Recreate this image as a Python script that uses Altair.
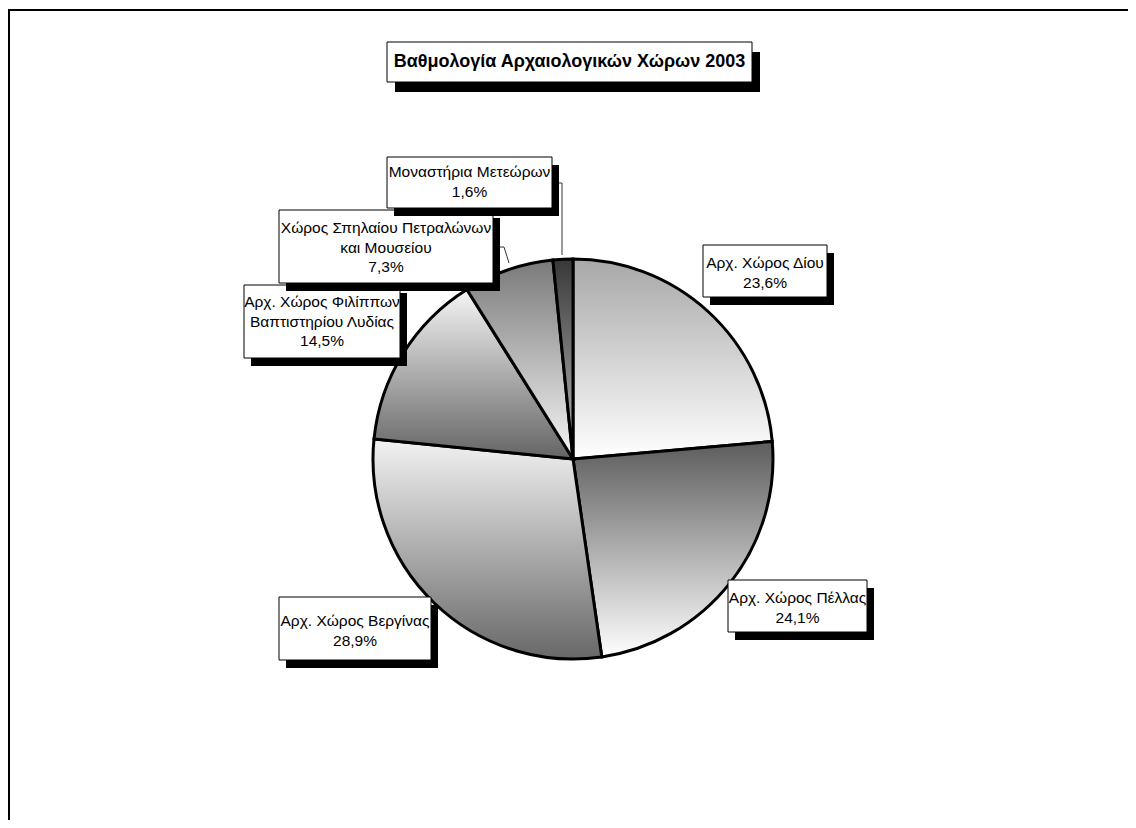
import math
import altair as alt
import pandas as pd

# ---------------- data ----------------
chart_title = "Βαθμολογία Αρχαιολογικών Χώρων 2003"
sites = [
    "Αρχ. Χώρος Δίου",
    "Αρχ. Χώρος Πέλλας",
    "Αρχ. Χώρος Βεργίνας",
    "Αρχ. Χώρος Φιλίππων\nΒαπτιστηρίου Λυδίας",
    "Χώρος Σπηλαίου Πετραλώνων\nκαι Μουσείου",
    "Μοναστήρια Μετεώρων",
]
shares = [23.6, 24.1, 28.9, 14.5, 7.3, 1.6]

# ---------------- styles / layout (page pixels) ----------------
OFF = 8                     # page margin
W, H = 1120, 812
CX, CY, R = 573 - OFF, 459 - OFF, 200
FONT = "Liberation Sans"
LABEL_SIZE = 15.5
LINE_H = 19.5
TITLE_SIZE = 18

slice_grads = [
    ("#a8a8a8", "#ffffff"),
    ("#5c5c5c", "#ffffff"),
    ("#f2f2f2", "#686868"),
    ("#f5f5f5", "#646464"),
    ("#7a7a7a", "#f6f6f6"),
    ("#383838", "#bcbcbc"),
]
# label boxes: (x0, y0, x1, y1) in page pixels
label_boxes = [
    (703, 245, 827, 297),
    (728, 580, 867, 632),
    (279, 597, 431, 660),
    (244, 285, 400, 358),
    (279, 210, 493, 283),
    (387, 157, 552, 208),
]
first_line_y = [263, 598, 621, 302, 228, 172]
SHADOW = (7, 8)
title_box = (387, 42, 752, 82)
TITLE_SHADOW = (8, 10)
# leader lines: (x0, y0, x1, y1)
leaders = [
    (552, 183, 562, 183),
    (562, 183, 562, 255),
    (500, 247, 504, 247),
    (504, 247, 509, 263),
]

df = pd.DataFrame({"order": list(range(len(sites))), "name": sites, "value": shares})
one = pd.DataFrame({"k": [0]})

base = (
    alt.Chart(df)
    .transform_window(cum="sum(value)", sort=[alt.SortField("order")], frame=[None, 0])
    .transform_calculate(
        start="datum.cum - datum.value",
        label="datum.name + '\\n' + replace(format(datum.value, '.1f'), '.', ',') + '%'",
    )
)
theta_scale = alt.Scale(domain=[0, sum(shares)], range=[0, 2 * math.pi])

layers = []

# outer chart-area border (top + left visible)
layers.append(
    alt.Chart(one).mark_rule(color="black", strokeWidth=2)
    .encode(x=alt.value(0), x2=alt.value(W), y=alt.value(10 - OFF))
)
layers.append(
    alt.Chart(one).mark_rule(color="black", strokeWidth=2)
    .encode(x=alt.value(9 - OFF), y=alt.value(10 - OFF), y2=alt.value(H))
)

# pie slices
for i, (c0, c1) in enumerate(slice_grads):
    grad = alt.Gradient(
        gradient="linear",
        stops=[alt.GradientStop(offset=0, color=c0), alt.GradientStop(offset=1, color=c1)],
        x1=0, x2=0, y1=0, y2=1,
    )
    layers.append(
        base.transform_filter(alt.datum.order == i)
        .mark_arc(fill=grad, stroke="black", strokeWidth=3, outerRadius=R)
        .encode(
            theta=alt.Theta("start:Q", scale=theta_scale),
            theta2="cum:Q",
            x=alt.value(CX),
            y=alt.value(CY),
        )
    )

# leader lines
for (x0, y0, x1, y1) in leaders:
    layers.append(
        alt.Chart(one).mark_rule(color="#333333", strokeWidth=1)
        .encode(x=alt.value(x0 - OFF), y=alt.value(y0 - OFF),
                x2=alt.value(x1 - OFF), y2=alt.value(y1 - OFF))
    )


def boxed(chart_src, box, shadow):
    x0, y0, x1, y1 = [v - OFF for v in box]
    sx, sy = shadow
    return [
        chart_src.mark_rect(fill="black")
        .encode(x=alt.value(x0 + sx), x2=alt.value(x1 + sx),
                y=alt.value(y0 + sy), y2=alt.value(y1 + sy)),
        chart_src.mark_rect(fill="white", stroke="black", strokeWidth=1)
        .encode(x=alt.value(x0), x2=alt.value(x1), y=alt.value(y0), y2=alt.value(y1)),
    ]


# data labels, drawn in series order
for i, box in enumerate(label_boxes):
    src = base.transform_filter(alt.datum.order == i)
    layers.extend(boxed(src, box, SHADOW))
    x0, y0, x1, y1 = [v - OFF for v in box]
    layers.append(
        src.mark_text(font=FONT, fontSize=LABEL_SIZE, lineHeight=LINE_H, lineBreak="\n",
                      align="center", baseline="middle", color="black")
        .encode(x=alt.value((x0 + x1) / 2), y=alt.value(first_line_y[i] - OFF),
                text="label:N")
    )

# title box
tsrc = alt.Chart(pd.DataFrame({"t": [chart_title]}))
layers.extend(boxed(tsrc, title_box, TITLE_SHADOW))
tx0, ty0, tx1, ty1 = [v - OFF for v in title_box]
layers.append(
    tsrc.mark_text(font=FONT, fontSize=TITLE_SIZE, fontWeight="bold", align="center",
                   baseline="middle", color="black")
    .encode(x=alt.value((tx0 + tx1) / 2), y=alt.value(62 - OFF), text="t:N")
)

chart = (
    alt.layer(*layers)
    .properties(width=W, height=H, autosize="none", padding=0)
    .configure_view(stroke=None)
)

chart.save("out.html", embed_options={"renderer": "svg", "actions": False})
